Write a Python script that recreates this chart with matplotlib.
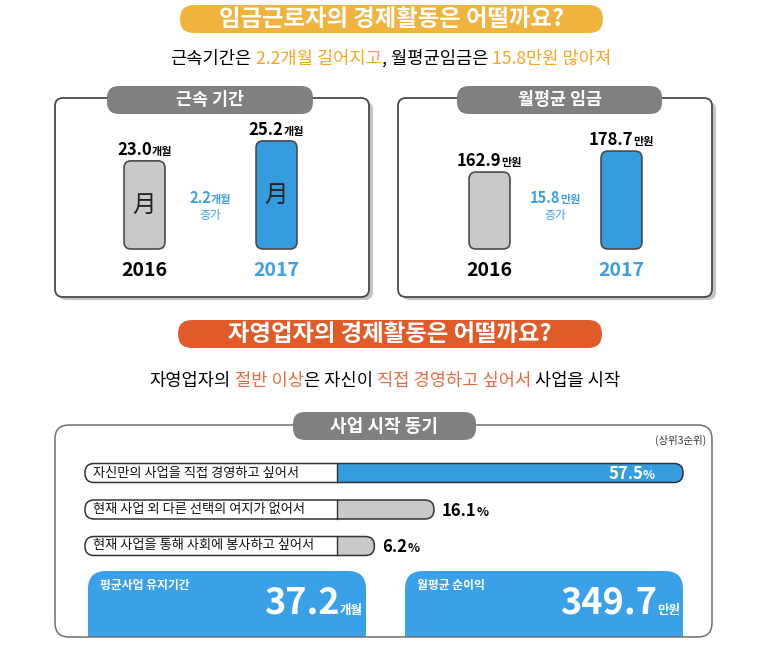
import matplotlib
matplotlib.use('Agg')
import matplotlib.pyplot as plt
from matplotlib.patches import FancyBboxPatch, Rectangle
from matplotlib.transforms import IdentityTransform

plt.rcParams['font.family'] = ['Noto Sans CJK KR', 'DejaVu Sans']

# data
years = ['2016', '2017']
tenure_months = [23.0, 25.2]
wage_manwon = [162.9, 178.7]
motives = ['자신만의 사업을 직접 경영하고 싶어서',
           '현재 사업 외 다른 선택의 여지가 없어서',
           '현재 사업을 통해 사회에 봉사하고 싶어서']
motive_pct = [57.5, 16.1, 6.2]
biz_period = 37.2
net_income = 349.7

W, H = 773, 664
BLUE = '#359cdd'
GRAY = '#c8c9c8'
EDGE = '#4a4a4a'
TXT_BLUE = '#3a9fe6'

fig = plt.figure(figsize=(W / 100, H / 100), dpi=100)
bg = fig.add_axes([0, 0, 1, 1])
bg.set_xlim(0, W)
bg.set_ylim(H, 0)
bg.axis('off')
R = fig.canvas.get_renderer()


def px_axes(left, top, width, height):
    ax = fig.add_axes([left / W, 1 - (top + height) / H, width / W, height / H])
    ax.axis('off')
    ax.patch.set_visible(False)
    return ax


def rbox(ax, x, y, w, h, r, **kw):
    inv = ax.transData.inverted()
    (x0, y0), (x1, y1) = inv.transform([(0, 0), (1, 1)])
    dx, dy = abs(x1 - x0), abs(y1 - y0)
    p = FancyBboxPatch((x, y), w, h, boxstyle=f'round,pad=0,rounding_size={r * dx}',
                       mutation_aspect=dy / dx, **kw)
    ax.add_patch(p)
    return p


def measure(s, size, weight):
    t = fig.text(0, 0, s, fontsize=size, fontweight=weight, transform=IdentityTransform())
    w = t.get_window_extent(R).width
    t.remove()
    return w


def rich(xd, yd, parts, ha='center'):
    # parts: (text, size, color, weight), drawn on one baseline in display pixels
    items = []
    total = 0
    for s, size, color, weight in parts:
        core = s.strip(' ')
        sp = measure('가 가', size, weight) - measure('가가', size, weight)
        lead = (len(s) - len(s.lstrip(' '))) * sp
        trail = (len(s) - len(s.rstrip(' '))) * sp
        w = measure(core, size, weight)
        items.append((core, size, color, weight, lead, w, trail))
        total += lead + w + trail
    if ha == 'center':
        x = xd - total / 2
    elif ha == 'right':
        x = xd - total
    else:
        x = xd
    for core, size, color, weight, lead, w, trail in items:
        x += lead
        fig.text(x, yd, core, fontsize=size, color=color, fontweight=weight,
                 transform=IdentityTransform(), ha='left', va='baseline', zorder=6)
        x += w + trail


def P(px, py):
    return px, H - py


# ---------- top section ----------
rbox(bg, 180, 5, 423, 28, 14, fc='#f0b43e', ec='none')
bg.text(391.5, 19, '임금근로자의 경제활동은 어떨까요?', ha='center', va='center',
        fontsize=16.8, fontweight='bold', color='white')

YEL = '#f5a623'
SUB = 12.7
rich(*P(391, 64), [('근속기간은 ', SUB, 'black', 'normal'),
                   ('2.2개월 길어지고', SUB, YEL, 'normal'),
                   (', 월평균임금은 ', SUB, 'black', 'normal'),
                   ('15.8만원 많아져', SUB, YEL, 'normal')])

for x0, pill_x, pill_w, title in [(55, 107, 206, '근속 기간'), (398, 457, 205, '월평균 임금')]:
    rbox(bg, x0 + 3, 101, 315, 199, 9, fc='#e2e2e2', ec='none')
    rbox(bg, x0 + 4, 102, 314, 198, 8, fc='#c4c4c4', ec='none')
    rbox(bg, x0, 98, 314, 199, 8, fc='white', ec=EDGE, lw=1.3)
    rbox(bg, pill_x, 86, pill_w, 28, 12, fc='#808080', ec='none')
    bg.text(pill_x + pill_w / 2, 100, title, ha='center', va='center',
            fontsize=12.5, fontweight='bold', color='white')


def year_panel(left, ylim, values, unit, show_moon):
    ax = px_axes(left, 120, 264, 129)
    ax.set_xlim(-0.5, 1.5)
    ax.set_ylim(*ylim)
    base = ylim[0]
    cols = [GRAY, BLUE]
    for i, v in enumerate(values):
        rbox(ax, i - 0.155, base, 0.31, v - base, 7, fc=cols[i], ec=EDGE, lw=1.2, clip_on=False)
        xd, yd = ax.transData.transform((i, v))
        rich(xd, yd + 6, [(f'{v:.1f}', 12, 'black', 'bold'), (unit, 8, 'black', 'bold')])
        xb, yb = ax.transData.transform((i, base))
        rich(xb, yb - 27, [(years[i], 14, 'black' if i == 0 else TXT_BLUE, 'bold')])
        if show_moon:
            ax.text(i, (base + v) / 2, '月', ha='center', va='center', fontsize=17, color='#222222')
    diff = round(values[1] - values[0], 1)
    xm, _ = ax.transData.transform((0.5, base))
    rich(xm, H - 203, [(f'{diff:.1f}', 10.5, TXT_BLUE, 'bold'), (unit, 8, TXT_BLUE, 'bold')])
    rich(xm, H - 219, [('증가', 8.5, TXT_BLUE, 'normal')])


year_panel(78.5, (13.3, 27.5), tenure_months, '개월', True)
year_panel(423.5, (105, 202.1), wage_manwon, '만원', False)

# ---------- bottom section ----------
rbox(bg, 178, 320, 424, 28, 14, fc='#e05b2a', ec='none')
bg.text(390, 334, '자영업자의 경제활동은 어떨까요?', ha='center', va='center',
        fontsize=16.8, fontweight='bold', color='white')

RED = '#ea6a45'
rich(*P(385, 386), [('자영업자의 ', SUB, 'black', 'normal'),
                    ('절반 이상', SUB, RED, 'normal'),
                    ('은 자신이 ', SUB, 'black', 'normal'),
                    ('직접 경영하고 싶어서', SUB, RED, 'normal'),
                    (' 사업을 시작', SUB, 'black', 'normal')])

panel = rbox(bg, 55, 425, 657, 212, 14, fc='white', ec='none')
for bx, label, val, unit in [(88, '평균사업 유지기간', biz_period, '개월'),
                             (405, '월평균 순이익', net_income, '만원')]:
    b = rbox(bg, bx, 571, 278, 90, 18, fc='#3aa0e8', ec='none')
    b.set_clip_path(panel)
    rich(*P(bx + 12, 589), [(label, 8.5, 'white', 'bold')], ha='left')
    rich(*P(bx + 275, 614), [(f'{val:.1f}', 26, 'white', 'bold'), (unit, 9, 'white', 'bold')], ha='right')
rbox(bg, 55, 425, 657, 212, 14, fc='none', ec='#6f6f6f', lw=1.1)
rbox(bg, 293, 412, 183, 28, 12, fc='#808080', ec='none')
bg.text(384.5, 426, '사업 시작 동기', ha='center', va='center',
        fontsize=13, fontweight='bold', color='white')
rich(*P(706, 444), [('(상위3순위)', 7.5, '#333333', 'normal')], ha='right')

axC = px_axes(85, 454.75, 598, 109.5)
xmin = -41.9
axC.set_xlim(xmin, max(motive_pct))
axC.set_ylim(2.5, -0.5)
bh = 0.52
for i, (lab, v) in enumerate(zip(motives, motive_pct)):
    col = BLUE if i == 0 else GRAY
    outer = rbox(axC, xmin, i - bh / 2, v - xmin, bh, 9, fc=col, ec='none', clip_on=False)
    white = Rectangle((xmin, i - bh / 2), -xmin, bh, fc='white', ec='none')
    axC.add_patch(white)
    white.set_clip_path(outer)
    axC.plot([0, 0], [i - bh / 2, i + bh / 2], color='#333333', lw=1)
    rbox(axC, xmin, i - bh / 2, v - xmin, bh, 9, fc='none', ec='#333333', lw=1.1, clip_on=False)
    axC.annotate(lab, (xmin, i), xytext=(8, 0), textcoords='offset pixels',
                 va='center', ha='left', fontsize=9.5, color='#111111')
    xd, yd = axC.transData.transform((v, i))
    if i == 0:
        rich(xd - 28, yd - 6, [(f'{v:.1f}', 12, 'white', 'bold'), ('%', 9, 'white', 'bold')], ha='right')
    else:
        rich(xd + 8, yd - 6, [(f'{v:.1f}', 12, 'black', 'bold'), ('%', 9, 'black', 'bold')], ha='left')

fig.savefig('out.png', dpi=100)
